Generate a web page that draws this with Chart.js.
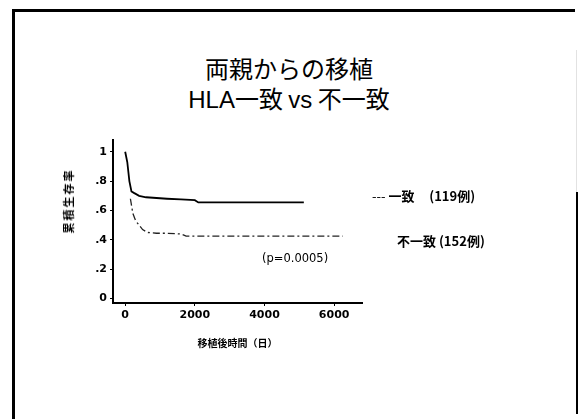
<!DOCTYPE html>
<html lang="ja">
<head>
  <meta charset="UTF-8">
  <title>両親からの移植 HLA一致 vs 不一致</title>
  <script src="https://cdn.jsdelivr.net/npm/chart.js"></script>
  <style>
    body {
      margin: 0;
      width: 578px;
      height: 419px;
      background: #fff;
      position: relative;
      overflow: hidden;
      font-family: "Noto Sans CJK JP", "Noto Sans", sans-serif;
      color: #000;
    }
    .frame-top { position: absolute; left: 13px; top: 9px; width: 562px; height: 3px; background: #000; }
    .frame-left { position: absolute; left: 12px; top: 9px; width: 3px; height: 410px; background: #000; }
    .frame-right-light { position: absolute; left: 576px; top: 50px; width: 1px; height: 142px; background: #e2e2e2; }
    .frame-right { position: absolute; left: 576px; top: 192px; width: 2px; height: 222px; background: #000; }
    .title {
      position: absolute;
      left: 0;
      width: 578px;
      text-align: center;
      font-size: 24px;
      line-height: 30px;
      top: 53px;
    }
    .title .latin { font-family: "Liberation Sans", sans-serif; }
    .chart-box { position: absolute; left: 0; top: 0; width: 578px; height: 419px; }
    .label { position: absolute; font-size: 13px; font-weight: bold; white-space: nowrap; }
    .ytitle {
      position: absolute;
      left: 68px;
      top: 201px;
      transform: translate(-50%, -50%) rotate(-90deg);
      font-size: 11px;
      font-weight: bold;
      letter-spacing: 2px;
      white-space: nowrap;
    }
  </style>
</head>
<body>
  <div class="frame-top"></div>
  <div class="frame-left"></div>
  <div class="frame-right-light"></div>
  <div class="frame-right"></div>

  <div class="title">両親からの移植<br><span class="latin">HLA</span>一致 <span class="latin">vs</span> 不一致</div>

  <div class="chart-box">
    <canvas id="kmChart" width="578" height="419"></canvas>
  </div>

  <div class="ytitle">累積生存率</div>
  <div class="label" style="left:372px; top:186px;"><span style="font-weight:normal">---</span> 一致 &nbsp;&nbsp;&nbsp;&nbsp;(119例)</div>
  <div class="label" style="left:397px; top:231px;">不一致 (152例)</div>
  <div class="label" style="left:262px; top:251px; font-family:'DejaVu Sans'; font-weight:normal; font-size:11.5px;">(p=0.0005)</div>

  <script>
    // axis ticks
    const xTicks = [0, 2000, 4000, 6000];
    const yTicks = [0, 0.2, 0.4, 0.6, 0.8, 1];

    // 一致 (119例)
    const matchDays = [0, 60, 120, 180, 250, 400, 600, 900, 1200, 1600, 2000, 2100, 3000, 4000, 5130];
    const matchSurv = [1.0, 0.93, 0.80, 0.73, 0.72, 0.70, 0.69, 0.685, 0.68, 0.675, 0.67, 0.655, 0.655, 0.655, 0.655];

    // 不一致 (152例)
    const mismatchDays = [150, 220, 300, 400, 500, 650, 900, 1200, 1600, 1750, 3000, 4500, 6250];
    const mismatchSurv = [0.68, 0.58, 0.53, 0.50, 0.47, 0.45, 0.445, 0.445, 0.44, 0.425, 0.425, 0.425, 0.425];

    function toPoints(xs, ys) {
      return xs.map((x, i) => ({ x: x, y: ys[i] }));
    }

    const ctx = document.getElementById('kmChart');
    new Chart(ctx, {
      type: 'scatter',
      data: {
        datasets: [
          {
            label: '一致',
            data: toPoints(matchDays, matchSurv),
            showLine: true,
            borderColor: '#000',
            borderWidth: 1.8,
            pointRadius: 0,
            tension: 0
          },
          {
            label: '不一致',
            data: toPoints(mismatchDays, mismatchSurv),
            showLine: true,
            borderColor: '#222',
            borderWidth: 1.3,
            borderDash: [7, 3, 2, 3],
            pointRadius: 0,
            tension: 0
          }
        ]
      },
      options: {
        responsive: false,
        animation: false,
        layout: { padding: { left: 63, top: 140, right: 216, bottom: 66 } },
        plugins: {
          legend: { display: false },
          tooltip: { enabled: false }
        },
        scales: {
          x: {
            type: 'linear',
            min: -350,
            max: 6800,
            afterBuildTicks: (scale) => { scale.ticks = xTicks.map(v => ({ value: v })); },
            afterFit: (scale) => { scale.height = 50; },
            grid: { drawOnChartArea: false, drawTicks: true, tickLength: 3, color: '#000' },
            border: { color: '#000', width: 2 },
            ticks: {
              color: '#000',
              font: { family: 'DejaVu Sans', size: 11, weight: 'bold' },
              padding: 3,
              maxRotation: 0,
              callback: (v) => String(v)
            },
            title: {
              display: true,
              text: '移植後時間（日）',
              color: '#000',
              font: { family: 'Noto Sans CJK JP', size: 10, weight: 'bold' },
              padding: { top: 6 }
            }
          },
          y: {
            min: -0.03,
            max: 1.08,
            afterBuildTicks: (scale) => { scale.ticks = yTicks.map(v => ({ value: v })); },
            afterFit: (scale) => { scale.width = 50; },
            grid: { drawOnChartArea: false, drawTicks: true, tickLength: 3, color: '#000' },
            border: { color: '#000', width: 2 },
            ticks: {
              color: '#000',
              font: { family: 'DejaVu Sans', size: 11, weight: 'bold' },
              padding: 3,
              callback: (v) => (v === 0 || v === 1) ? String(v) : String(Math.round(v * 10) / 10).replace('0.', '.')
            },
            title: { display: false }
          }
        }
      }
    });
  </script>
</body>
</html>
